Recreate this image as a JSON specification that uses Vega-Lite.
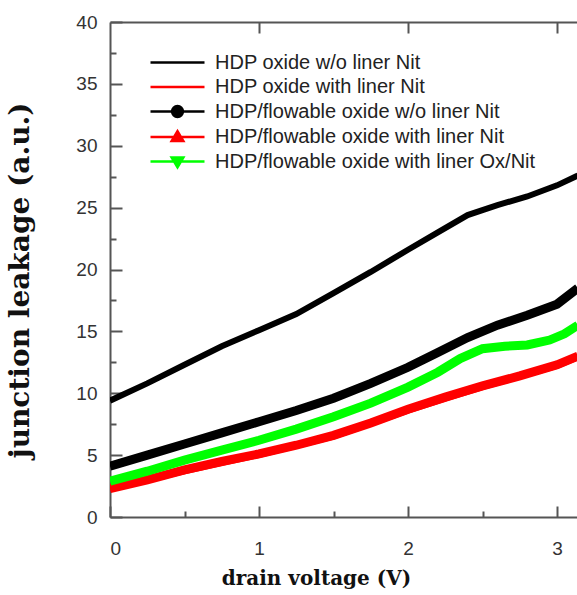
{
  "$schema": "https://vega.github.io/schema/vega-lite/v6.json",
  "autosize": {"type": "none"},
  "padding": {"left": 110, "top": 22, "right": 0, "bottom": 78},
  "width": 467,
  "height": 495,
  "background": "white",
  "config": {
    "view": {"stroke": null},
    "font": "Liberation Sans",
    "axis": {"grid": false, "domainColor": "#555", "domainWidth": 2, "tickColor": "#555", "tickWidth": 2, "labelFont": "Liberation Sans", "labelFontSize": 19, "labelColor": "#333", "titleFont": "DejaVu Serif", "titleFontWeight": "bold", "titleColor": "#111"}
  },
  "data": {"values": [
    {"series": "HDP oxide w/o liner Nit", "V": 0, "I": 9.4},
    {"series": "HDP oxide w/o liner Nit", "V": 0.25, "I": 10.8},
    {"series": "HDP oxide w/o liner Nit", "V": 0.5, "I": 12.3},
    {"series": "HDP oxide w/o liner Nit", "V": 0.75, "I": 13.8},
    {"series": "HDP oxide w/o liner Nit", "V": 1.0, "I": 15.1},
    {"series": "HDP oxide w/o liner Nit", "V": 1.25, "I": 16.4},
    {"series": "HDP oxide w/o liner Nit", "V": 1.5, "I": 18.1},
    {"series": "HDP oxide w/o liner Nit", "V": 1.75, "I": 19.8},
    {"series": "HDP oxide w/o liner Nit", "V": 2.0, "I": 21.6},
    {"series": "HDP oxide w/o liner Nit", "V": 2.2, "I": 23.0},
    {"series": "HDP oxide w/o liner Nit", "V": 2.4, "I": 24.4},
    {"series": "HDP oxide w/o liner Nit", "V": 2.6, "I": 25.2},
    {"series": "HDP oxide w/o liner Nit", "V": 2.8, "I": 25.9},
    {"series": "HDP oxide w/o liner Nit", "V": 3.0, "I": 26.8},
    {"series": "HDP oxide w/o liner Nit", "V": 3.14, "I": 27.6},
    {"series": "HDP oxide with liner Nit", "V": 0, "I": 2.3},
    {"series": "HDP oxide with liner Nit", "V": 0.5, "I": 3.7},
    {"series": "HDP oxide with liner Nit", "V": 1.0, "I": 5.0},
    {"series": "HDP oxide with liner Nit", "V": 1.5, "I": 6.5},
    {"series": "HDP oxide with liner Nit", "V": 2.0, "I": 8.6},
    {"series": "HDP oxide with liner Nit", "V": 2.5, "I": 10.5},
    {"series": "HDP oxide with liner Nit", "V": 3.0, "I": 12.2},
    {"series": "HDP oxide with liner Nit", "V": 3.14, "I": 12.9},
    {"series": "HDP/flowable oxide w/o liner Nit", "V": 0, "I": 4.1},
    {"series": "HDP/flowable oxide w/o liner Nit", "V": 0.25, "I": 5.0},
    {"series": "HDP/flowable oxide w/o liner Nit", "V": 0.5, "I": 5.9},
    {"series": "HDP/flowable oxide w/o liner Nit", "V": 0.75, "I": 6.8},
    {"series": "HDP/flowable oxide w/o liner Nit", "V": 1.0, "I": 7.7},
    {"series": "HDP/flowable oxide w/o liner Nit", "V": 1.25, "I": 8.6},
    {"series": "HDP/flowable oxide w/o liner Nit", "V": 1.5, "I": 9.6},
    {"series": "HDP/flowable oxide w/o liner Nit", "V": 1.75, "I": 10.8},
    {"series": "HDP/flowable oxide w/o liner Nit", "V": 2.0, "I": 12.1},
    {"series": "HDP/flowable oxide w/o liner Nit", "V": 2.2, "I": 13.3},
    {"series": "HDP/flowable oxide w/o liner Nit", "V": 2.4, "I": 14.5},
    {"series": "HDP/flowable oxide w/o liner Nit", "V": 2.6, "I": 15.5},
    {"series": "HDP/flowable oxide w/o liner Nit", "V": 2.8, "I": 16.3},
    {"series": "HDP/flowable oxide w/o liner Nit", "V": 3.0, "I": 17.2},
    {"series": "HDP/flowable oxide w/o liner Nit", "V": 3.14, "I": 18.5},
    {"series": "HDP/flowable oxide with liner Nit", "V": 0, "I": 2.3},
    {"series": "HDP/flowable oxide with liner Nit", "V": 0.25, "I": 3.0},
    {"series": "HDP/flowable oxide with liner Nit", "V": 0.5, "I": 3.8},
    {"series": "HDP/flowable oxide with liner Nit", "V": 0.75, "I": 4.5},
    {"series": "HDP/flowable oxide with liner Nit", "V": 1.0, "I": 5.1},
    {"series": "HDP/flowable oxide with liner Nit", "V": 1.25, "I": 5.8},
    {"series": "HDP/flowable oxide with liner Nit", "V": 1.5, "I": 6.6},
    {"series": "HDP/flowable oxide with liner Nit", "V": 1.75, "I": 7.6},
    {"series": "HDP/flowable oxide with liner Nit", "V": 2.0, "I": 8.7},
    {"series": "HDP/flowable oxide with liner Nit", "V": 2.25, "I": 9.7},
    {"series": "HDP/flowable oxide with liner Nit", "V": 2.5, "I": 10.6},
    {"series": "HDP/flowable oxide with liner Nit", "V": 2.75, "I": 11.4},
    {"series": "HDP/flowable oxide with liner Nit", "V": 3.0, "I": 12.3},
    {"series": "HDP/flowable oxide with liner Nit", "V": 3.14, "I": 13.0},
    {"series": "HDP/flowable oxide with liner Ox/Nit", "V": 0, "I": 2.9},
    {"series": "HDP/flowable oxide with liner Ox/Nit", "V": 0.25, "I": 3.7},
    {"series": "HDP/flowable oxide with liner Ox/Nit", "V": 0.5, "I": 4.6},
    {"series": "HDP/flowable oxide with liner Ox/Nit", "V": 0.75, "I": 5.4},
    {"series": "HDP/flowable oxide with liner Ox/Nit", "V": 1.0, "I": 6.2},
    {"series": "HDP/flowable oxide with liner Ox/Nit", "V": 1.25, "I": 7.1},
    {"series": "HDP/flowable oxide with liner Ox/Nit", "V": 1.5, "I": 8.1},
    {"series": "HDP/flowable oxide with liner Ox/Nit", "V": 1.75, "I": 9.2},
    {"series": "HDP/flowable oxide with liner Ox/Nit", "V": 2.0, "I": 10.5},
    {"series": "HDP/flowable oxide with liner Ox/Nit", "V": 2.2, "I": 11.7},
    {"series": "HDP/flowable oxide with liner Ox/Nit", "V": 2.35, "I": 12.8},
    {"series": "HDP/flowable oxide with liner Ox/Nit", "V": 2.5, "I": 13.6},
    {"series": "HDP/flowable oxide with liner Ox/Nit", "V": 2.65, "I": 13.8},
    {"series": "HDP/flowable oxide with liner Ox/Nit", "V": 2.8, "I": 13.9},
    {"series": "HDP/flowable oxide with liner Ox/Nit", "V": 2.95, "I": 14.3},
    {"series": "HDP/flowable oxide with liner Ox/Nit", "V": 3.05, "I": 14.8},
    {"series": "HDP/flowable oxide with liner Ox/Nit", "V": 3.14, "I": 15.5}
  ]},
  "resolve": {"axis": {"x": "independent", "y": "independent"}},
  "layer": [
    {
      "transform": [{"filter": "datum.series == 'HDP oxide w/o liner Nit'"}],
      "mark": {"type": "line", "strokeWidth": 6, "clip": true},
      "encoding": {
        "x": {"field": "V", "type": "quantitative", "scale": {"domain": [0, 3.134], "nice": false, "zero": false},
              "axis": {"orient": "bottom", "values": [0, 1, 2, 3], "ticks": false, "labelPadding": 22, "title": "drain voltage (V)", "titleFontSize": 20, "titleX": 206, "titleY": 61, "titleBaseline": "middle", "titleAnchor": null}},
        "y": {"field": "I", "type": "quantitative", "scale": {"domain": [0, 40], "nice": false},
              "axis": {"orient": "left", "values": [0, 5, 10, 15, 20, 25, 30, 35, 40], "ticks": false, "labelPadding": 13, "title": "junction leakage (a.u.)", "titleFontSize": 28, "titleX": -90, "titleY": 258, "titleAngle": -90, "titleAlign": "center", "titleBaseline": "middle"}},
        "color": {"field": "series", "type": "nominal", "legend": null,
                  "scale": {"range": ["#000000", "#ff0000", "#000000", "#ff0000", "#00ff00"]}}
      }
    },
    {
      "transform": [{"filter": "datum.series == 'HDP oxide with liner Nit'"}],
      "mark": {"type": "line", "strokeWidth": 6, "clip": true},
      "encoding": {
        "x": {"field": "V", "type": "quantitative",
              "axis": {"orient": "bottom", "values": [0, 1, 2, 3], "offset": -11, "tickSize": 11, "labels": false, "domain": false, "title": null}},
        "y": {"field": "I", "type": "quantitative",
              "axis": {"orient": "left", "values": [0, 5, 10, 15, 20, 25, 30, 35, 40], "offset": -12, "tickSize": 12, "labels": false, "domain": false, "title": null}},
        "color": {"field": "series", "type": "nominal", "legend": null}
      }
    },
    {
      "transform": [{"filter": "datum.series == 'HDP/flowable oxide w/o liner Nit'"}],
      "mark": {"type": "line", "strokeWidth": 9, "clip": true},
      "encoding": {
        "x": {"field": "V", "type": "quantitative",
              "axis": {"orient": "bottom", "values": [0.5, 1.5, 2.5], "offset": -6, "tickSize": 6, "labels": false, "domain": false, "title": null}},
        "y": {"field": "I", "type": "quantitative",
              "axis": {"orient": "left", "values": [2.5, 7.5, 12.5, 17.5, 22.5, 27.5, 32.5, 37.5], "offset": -6, "tickSize": 6, "labels": false, "domain": false, "title": null}},
        "color": {"field": "series", "type": "nominal", "legend": null}
      }
    },
    {
      "transform": [{"filter": "datum.series == 'HDP/flowable oxide with liner Nit' || datum.series == 'HDP/flowable oxide with liner Ox/Nit'"}],
      "mark": {"type": "line", "strokeWidth": 9, "clip": true},
      "encoding": {
        "x": {"field": "V", "type": "quantitative",
              "axis": {"orient": "top", "values": [1, 2, 3], "ticks": false, "labels": false, "title": null}},
        "y": {"field": "I", "type": "quantitative", "axis": null},
        "color": {"field": "series", "type": "nominal", "legend": null}
      }
    },
    {
      "transform": [{"filter": "false"}],
      "mark": {"type": "point", "filled": true, "opacity": 1, "strokeWidth": 2.5},
      "encoding": {
        "x": {"field": "V", "type": "quantitative",
              "axis": {"orient": "top", "values": [1, 2, 3], "offset": -11, "tickSize": 11, "labels": false, "domain": false, "title": null}},
        "y": {"field": "I", "type": "quantitative", "axis": null},
        "shape": {"field": "series", "type": "nominal",
                  "scale": {"domain": ["HDP oxide w/o liner Nit", "HDP oxide with liner Nit", "HDP/flowable oxide w/o liner Nit", "HDP/flowable oxide with liner Nit", "HDP/flowable oxide with liner Ox/Nit"],
                            "range": ["M-5,0H1", "M-5,0H1", "M-5,0H1M-2.6,0A0.6,0.6 0 1,0 -1.4,0A0.6,0.6 0 1,0 -2.6,0Z", "M-5,0H1M-2.65,0.45L-1.35,0.45L-2,-0.65Z", "M-5,0H1M-2.65,-0.45L-1.35,-0.45L-2,0.65Z"]},
                  "legend": {"orient": "none", "legendX": 75, "legendY": 30, "title": null, "labelFontSize": 20, "labelFont": "Liberation Sans", "labelColor": "#222", "symbolSize": 324, "symbolStrokeWidth": 2.5, "symbolOpacity": 1, "rowPadding": 3.5, "labelOffset": 9, "padding": 0, "labelLimit": 500}},
        "fill": {"field": "series", "type": "nominal",
                 "scale": {"domain": ["HDP oxide w/o liner Nit", "HDP oxide with liner Nit", "HDP/flowable oxide w/o liner Nit", "HDP/flowable oxide with liner Nit", "HDP/flowable oxide with liner Ox/Nit"], "range": ["#000000", "#ff0000", "#000000", "#ff0000", "#00ff00"]},
                 "legend": {"orient": "none", "legendX": 75, "legendY": 30, "title": null, "labelFontSize": 20, "labelFont": "Liberation Sans", "labelColor": "#222", "symbolSize": 324, "symbolStrokeWidth": 2.5, "symbolOpacity": 1, "rowPadding": 3.5, "labelOffset": 9, "padding": 0, "labelLimit": 500}},
        "stroke": {"field": "series", "type": "nominal",
                   "scale": {"domain": ["HDP oxide w/o liner Nit", "HDP oxide with liner Nit", "HDP/flowable oxide w/o liner Nit", "HDP/flowable oxide with liner Nit", "HDP/flowable oxide with liner Ox/Nit"], "range": ["#000000", "#ff0000", "#000000", "#ff0000", "#00ff00"]},
                   "legend": {"orient": "none", "legendX": 75, "legendY": 30, "title": null, "labelFontSize": 20, "labelFont": "Liberation Sans", "labelColor": "#222", "symbolSize": 324, "symbolStrokeWidth": 2.5, "symbolOpacity": 1, "rowPadding": 3.5, "labelOffset": 9, "padding": 0, "labelLimit": 500}}
      }
    }
  ]
}
